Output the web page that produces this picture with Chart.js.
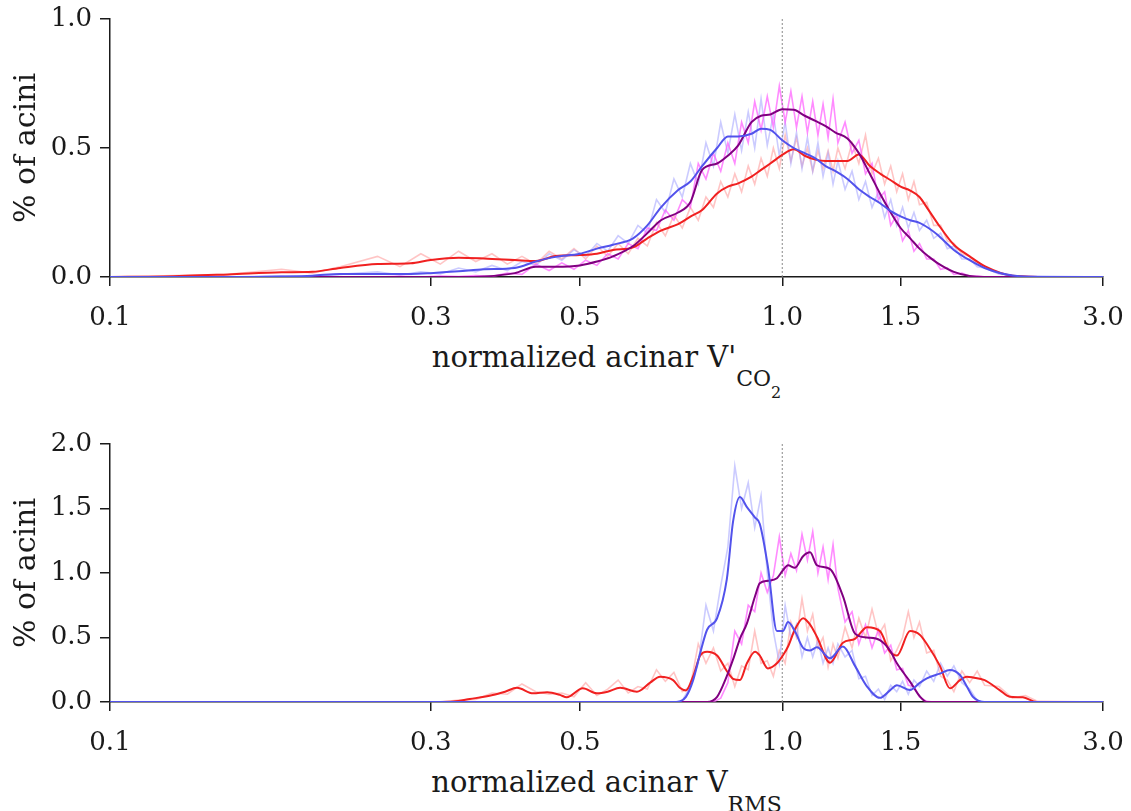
<!DOCTYPE html>
<html>
<head>
<meta charset="utf-8">
<script src="https://cdn.jsdelivr.net/npm/chart.js@4.4.0/dist/chart.umd.min.js"></script>
<style>
  body { margin: 0; background: #fff; width: 1131px; height: 811px; position: relative; overflow: hidden; }
  canvas { position: absolute; left: 0; }
  .xt { position: absolute; left: 110px; width: 993px; text-align: center; white-space: nowrap;
        font-family: 'DejaVu Serif', serif; font-size: 29px; line-height: 28px; color: #1a1a1a; }
  .s1 { font-size: 22px; position: relative; top: 19px; }
  .s2 { font-size: 16px; position: relative; top: 12px; }
  .rms { top: 20px; }
</style>
</head>
<body>
<canvas id="co2" width="1131" height="340" style="top:0px"></canvas>
<canvas id="rms" width="1131" height="340" style="top:425px"></canvas>
<div class="xt" style="top:343px">normalized acinar V'<span class="s1">CO<span class="s2">2</span></span></div>
<div class="xt" style="top:768px">normalized acinar V<span class="s1 rms">RMS</span></div>

<script>
// ---------- axes ----------
const xTicks = [0.1, 0.3, 0.5, 1.0, 1.5, 3.0];
const co2YTicks = [0, 0.5, 1.0];
const rmsYTicks = [0, 0.5, 1.0, 1.5, 2.0];

// ---------- top panel : V'CO2 ----------
// smoothed curves
const co2X = [0.1, 0.12, 0.15, 0.18, 0.2, 0.22, 0.25, 0.28, 0.3, 0.33, 0.36, 0.4, 0.43, 0.46, 0.5, 0.53, 0.56,
  0.6, 0.63, 0.66, 0.7, 0.73, 0.76, 0.8, 0.83, 0.86, 0.9, 0.93, 0.96, 1.0, 1.04, 1.08, 1.12, 1.16, 1.2, 1.25,
  1.3, 1.35, 1.4, 1.45, 1.5, 1.55, 1.6, 1.65, 1.7, 1.8, 1.9, 2.0, 2.2, 2.5, 3.0];
const co2Red = [0, 0.002, 0.01, 0.018, 0.02, 0.035, 0.05, 0.053, 0.066, 0.075, 0.072, 0.066, 0.062, 0.081, 0.085, 0.09, 0.105,
  0.115, 0.15, 0.18, 0.205, 0.234, 0.26, 0.324, 0.35, 0.363, 0.389, 0.415, 0.44, 0.473, 0.495, 0.47, 0.455, 0.45, 0.45, 0.45,
  0.475, 0.43, 0.4, 0.375, 0.35, 0.335, 0.31, 0.26, 0.21, 0.125, 0.08, 0.042, 0.005, 0, 0];
const co2Blue = [0, 0, 0, 0.002, 0.005, 0.012, 0.012, 0.012, 0.015, 0.022, 0.03, 0.035, 0.06, 0.078, 0.09, 0.11, 0.125,
  0.15, 0.2, 0.27, 0.337, 0.37, 0.43, 0.5, 0.545, 0.545, 0.555, 0.575, 0.57, 0.53, 0.5, 0.48, 0.46, 0.43, 0.41, 0.38,
  0.34, 0.31, 0.285, 0.255, 0.235, 0.22, 0.21, 0.19, 0.165, 0.105, 0.065, 0.035, 0.006, 0, 0];
const co2Purple = [0, 0, 0, 0, 0, 0, 0, 0, 0, 0, 0.002, 0.015, 0.04, 0.04, 0.045, 0.06, 0.08,
  0.12, 0.17, 0.22, 0.25, 0.29, 0.415, 0.44, 0.47, 0.51, 0.6, 0.625, 0.63, 0.65, 0.648, 0.625, 0.605, 0.585, 0.56, 0.537,
  0.48, 0.4, 0.32, 0.25, 0.19, 0.15, 0.11, 0.08, 0.055, 0.02, 0.004, 0, 0, 0, 0];

// raw (noisy) curves
const co2RawX = [0.1, 0.15, 0.18, 0.2, 0.22,
  0.25, 0.27, 0.29, 0.31, 0.33, 0.35, 0.37, 0.39, 0.41, 0.43, 0.45, 0.47, 0.49,
  0.51, 0.53, 0.55, 0.57, 0.59, 0.61, 0.63, 0.65, 0.67, 0.69, 0.71, 0.73, 0.75, 0.77, 0.79, 0.81, 0.83, 0.85, 0.87, 0.89, 0.91, 0.93, 0.95, 0.97, 0.99,
  1.01, 1.03, 1.05, 1.07, 1.09, 1.11, 1.13, 1.15, 1.17, 1.19, 1.21,
  1.24, 1.27, 1.30, 1.33, 1.36, 1.39, 1.42, 1.45, 1.48, 1.51, 1.54, 1.57, 1.60,
  1.64, 1.68, 1.72, 1.76, 1.80, 1.85, 1.90, 1.95, 2.0, 2.1, 2.2, 2.5, 3.0];
const co2RawRed = [0, 0.01, 0.03, 0.015, 0.04,
  0.08, 0.04, 0.09, 0.05, 0.1, 0.06, 0.09, 0.05, 0.08, 0.05, 0.1, 0.07, 0.11,
  0.07, 0.12, 0.08, 0.13, 0.09, 0.15, 0.12, 0.21, 0.16, 0.24, 0.19, 0.27, 0.22, 0.31, 0.27, 0.37, 0.31, 0.4, 0.33, 0.43, 0.36, 0.46, 0.39, 0.5, 0.42,
  0.55, 0.45, 0.54, 0.43, 0.5, 0.41, 0.49, 0.42, 0.49, 0.41, 0.5,
  0.42, 0.52, 0.44, 0.55, 0.4, 0.46, 0.36, 0.43, 0.33, 0.4, 0.3, 0.37, 0.28,
  0.29, 0.2, 0.2, 0.14, 0.13, 0.09, 0.08, 0.05, 0.04, 0.015, 0.005, 0, 0];
const co2RawBlue = [0, 0, 0.005, 0.003, 0.01,
  0.02, 0.008, 0.02, 0.012, 0.035, 0.02, 0.045, 0.025, 0.06, 0.045, 0.09, 0.065, 0.105,
  0.08, 0.13, 0.1, 0.16, 0.13, 0.2, 0.17, 0.3, 0.25, 0.38, 0.31, 0.44, 0.36, 0.52, 0.43, 0.6, 0.48, 0.63, 0.49, 0.64, 0.5, 0.69, 0.51, 0.63, 0.47,
  0.6, 0.44, 0.56, 0.42, 0.54, 0.41, 0.52, 0.39, 0.48, 0.36, 0.45,
  0.34, 0.41, 0.3, 0.37, 0.27, 0.33, 0.23, 0.3, 0.2, 0.27, 0.19, 0.25, 0.18,
  0.22, 0.15, 0.17, 0.11, 0.12, 0.07, 0.07, 0.04, 0.035, 0.012, 0.006, 0.003, 0];
const co2RawMagenta = [0, 0, 0, 0, 0,
  0, 0.003, 0, 0.004, 0.002, 0.006, 0.002, 0.015, 0.01, 0.05, 0.025, 0.055, 0.03,
  0.065, 0.045, 0.09, 0.07, 0.13, 0.11, 0.19, 0.18, 0.26, 0.22, 0.3, 0.27, 0.44, 0.38, 0.48, 0.41, 0.52, 0.44, 0.6, 0.52, 0.68, 0.57, 0.7, 0.58, 0.74,
  0.6, 0.72, 0.58, 0.7, 0.56, 0.68, 0.55, 0.67, 0.54, 0.69, 0.52,
  0.6, 0.48, 0.53, 0.4, 0.44, 0.3, 0.33, 0.2, 0.24, 0.14, 0.18, 0.1, 0.13,
  0.07, 0.07, 0.03, 0.035, 0.01, 0.015, 0.003, 0.004, 0, 0, 0, 0, 0];

// ---------- bottom panel : VRMS ----------
const rmsX = [0.1, 0.31, 0.324, 0.343, 0.371, 0.387, 0.403, 0.426, 0.447, 0.467,
  0.478, 0.505, 0.53, 0.55, 0.574, 0.608, 0.636, 0.658, 0.688, 0.704,
  0.719, 0.737, 0.755, 0.773, 0.8, 0.827, 0.845, 0.865, 0.886, 0.911,
  0.926, 0.952, 0.982, 1.002, 1.02, 1.044, 1.074, 1.1, 1.126, 1.178,
  1.231, 1.283, 1.337, 1.397, 1.446, 1.481, 1.549, 1.603, 1.641, 1.716,
  1.776, 1.838, 1.882, 1.921, 2.0, 2.108, 2.18, 2.28, 2.39, 3.0];
const rmsRed = [0, 0, 0.003, 0.023, 0.054, 0.08, 0.11, 0.067, 0.075, 0.055,
  0.036, 0.106, 0.067, 0.08, 0.11, 0.08, 0.15, 0.196, 0.17, 0.11,
  0.09, 0.2, 0.36, 0.39, 0.36, 0.24, 0.18, 0.17, 0.3, 0.39,
  0.36, 0.26, 0.3, 0.36, 0.43, 0.56, 0.65, 0.6, 0.506, 0.305,
  0.46, 0.49, 0.58, 0.55, 0.39, 0.36, 0.55, 0.52, 0.45, 0.28,
  0.106, 0.17, 0.196, 0.19, 0.17, 0.09, 0.041, 0.036, 0, 0];
const rmsBlue = [0, 0, 0, 0, 0, 0, 0, 0, 0, 0,
  0, 0, 0, 0, 0, 0, 0, 0, 0, 0.005,
  0.04, 0.17, 0.38, 0.56, 0.65, 0.95, 1.4, 1.59, 1.51, 1.43,
  1.38, 1.05, 0.55, 0.55, 0.62, 0.55, 0.42, 0.4, 0.424, 0.339,
  0.43, 0.28, 0.12, 0.032, 0.09, 0.13, 0.093, 0.15, 0.183, 0.22,
  0.248, 0.209, 0.12, 0.041, 0, 0, 0, 0, 0, 0];
const rmsPurple = [0, 0, 0, 0, 0, 0, 0, 0, 0, 0,
  0, 0, 0, 0, 0, 0, 0, 0, 0, 0,
  0, 0, 0, 0, 0.04, 0.2, 0.33, 0.49, 0.61, 0.82,
  0.92, 0.94, 0.96, 1.02, 1.06, 1.04, 1.13, 1.16, 1.06, 1.03,
  0.82, 0.53, 0.5, 0.48, 0.4, 0.3, 0.158, 0.041, 0, 0,
  0, 0, 0, 0, 0, 0, 0, 0, 0, 0];

const rmsRawX = [0.1,
  0.31, 0.33, 0.35, 0.37, 0.39, 0.41, 0.43, 0.45, 0.47, 0.49,
  0.51, 0.53, 0.55, 0.57, 0.59, 0.61, 0.63, 0.65, 0.67, 0.69, 0.71, 0.73, 0.75, 0.77, 0.79, 0.81, 0.83, 0.85, 0.87, 0.89, 0.91, 0.93, 0.95, 0.97, 0.99,
  1.01, 1.03, 1.05, 1.07, 1.09, 1.11, 1.13, 1.15, 1.17, 1.19, 1.21,
  1.24, 1.27, 1.30, 1.33, 1.36, 1.39, 1.42, 1.45, 1.48, 1.51, 1.54, 1.57, 1.60,
  1.64, 1.68, 1.72, 1.76, 1.80, 1.85, 1.90, 1.95, 2.0, 2.1, 2.2, 2.3, 2.4, 3.0];
const rmsRawRed = [0,
  0, 0.015, 0.02, 0.07, 0.06, 0.14, 0.08, 0.06, 0.07, 0.04,
  0.15, 0.05, 0.1, 0.17, 0.07, 0.12, 0.1, 0.25, 0.16, 0.23, 0.08, 0.12, 0.45, 0.3, 0.42, 0.24, 0.3, 0.12, 0.28, 0.25, 0.55, 0.3, 0.32, 0.2, 0.4,
  0.3, 0.62, 0.5, 0.8, 0.55, 0.68, 0.42, 0.5, 0.27, 0.45, 0.34,
  0.58, 0.42, 0.65, 0.5, 0.72, 0.52, 0.6, 0.32, 0.4, 0.5, 0.7, 0.5, 0.62,
  0.38, 0.4, 0.2, 0.17, 0.08, 0.24, 0.15, 0.24, 0.13, 0.12, 0.03, 0.05, 0.005, 0];
const rmsRawBlue = [0,
  0, 0, 0, 0, 0, 0, 0, 0, 0, 0,
  0, 0, 0, 0, 0, 0, 0, 0, 0, 0, 0.01, 0.12, 0.3, 0.75, 0.55, 0.9, 1.2, 1.83, 1.5, 1.7, 1.35, 1.6, 1.0, 0.55, 0.3,
  0.75, 0.5, 0.6, 0.35, 0.5, 0.35, 0.48, 0.3, 0.42, 0.3, 0.45,
  0.35, 0.4, 0.18, 0.2, 0.05, 0.1, 0.02, 0.13, 0.08, 0.16, 0.06, 0.17, 0.12,
  0.24, 0.16, 0.3, 0.2, 0.28, 0.15, 0.1, 0.01, 0, 0, 0, 0, 0, 0];
const rmsRawMagenta = [0,
  0, 0, 0, 0, 0, 0, 0, 0, 0, 0,
  0, 0, 0, 0, 0, 0, 0, 0, 0, 0, 0, 0, 0, 0, 0, 0.03, 0.15, 0.55, 0.45, 0.75, 0.7, 1.0, 0.85, 0.98, 1.28,
  0.98, 1.15, 1.02, 1.3, 1.1, 1.32, 1.0, 1.2, 0.95, 1.22, 0.88,
  0.62, 0.7, 0.45, 0.6, 0.42, 0.56, 0.38, 0.44, 0.25, 0.26, 0.13, 0.12, 0.04,
  0.005, 0, 0, 0, 0, 0, 0, 0, 0, 0, 0, 0, 0, 0];

// ---------- colours ----------
const RED = 'rgb(240, 32, 32)';
const BLUE = 'rgb(82, 82, 236)';
const PURPLE = 'rgb(128, 0, 128)';
const RED_RAW = 'rgba(255, 150, 150, 0.55)';
const BLUE_RAW = 'rgba(160, 160, 255, 0.55)';
const MAGENTA_RAW = 'rgba(255, 90, 255, 0.7)';
const INK = '#1a1a1a';
const FONT = "'DejaVu Serif', serif";

const pts = (xs, ys) => xs.map((x, i) => ({ x: x, y: ys[i] }));

function smooth(xs, ys, color, order) {
  return { data: pts(xs, ys), borderColor: color, borderWidth: 2, order: order,
           cubicInterpolationMode: 'monotone' };
}
function raw(xs, ys, color, order) {
  return { data: pts(xs, ys), borderColor: color, borderWidth: 1.6, order: order };
}

function buildChart(id, yTicks, sx, sRed, sBlue, sPurple, rx, rRed, rBlue, rMagenta) {
  const yMax = yTicks[yTicks.length - 1];
  return new Chart(document.getElementById(id), {
    type: 'line',
    data: {
      datasets: [
        smooth(sx, sBlue, BLUE, 1),
        smooth(sx, sPurple, PURPLE, 2),
        smooth(sx, sRed, RED, 3),
        // dotted reference line at x = 1
        { data: [{ x: 1, y: 0 }, { x: 1, y: yMax }], borderColor: '#8a8a8a', borderWidth: 1,
          borderDash: [2, 2], order: 4 },
        raw(rx, rMagenta, MAGENTA_RAW, 5),
        raw(rx, rBlue, BLUE_RAW, 6),
        raw(rx, rRed, RED_RAW, 7)
      ]
    },
    options: {
      responsive: false,
      animation: false,
      devicePixelRatio: 1,
      layout: { padding: { left: 0, right: 28, top: 19, bottom: 0 } },
      elements: { point: { radius: 0 } },
      plugins: { legend: { display: false }, tooltip: { enabled: false } },
      scales: {
        x: {
          type: 'logarithmic', min: 0.1, max: 3.0,
          afterBuildTicks: (ax) => { ax.ticks = xTicks.map(v => ({ value: v })); },
          afterFit: (s) => { s.height = 63; s.paddingLeft = 0; s.paddingRight = 0; },
          ticks: { callback: (v) => Number(v).toFixed(1), autoSkip: false, maxRotation: 0,
                   padding: 17, color: INK, font: { family: FONT, size: 26 } },
          grid: { drawOnChartArea: false, drawTicks: true, tickLength: 9, color: INK, lineWidth: 1.5 },
          border: { display: true, color: INK, width: 1.5 }
        },
        y: {
          min: 0, max: yMax,
          afterBuildTicks: (ax) => { ax.ticks = yTicks.map(v => ({ value: v })); },
          afterFit: (s) => { s.width = 110; s.paddingTop = 0; s.paddingBottom = 0; },
          ticks: { callback: (v) => Number(v).toFixed(1), padding: 8, color: INK,
                   font: { family: FONT, size: 26 } },
          grid: { drawOnChartArea: false, drawTicks: true, tickLength: 10, color: INK, lineWidth: 1.5 },
          border: { display: true, color: INK, width: 1.5 },
          title: { display: true, text: '% of acini', color: INK,
                   font: { family: FONT, size: 30 }, padding: { top: 9, bottom: 0 } }
        }
      }
    }
  });
}

buildChart('co2', co2YTicks, co2X, co2Red, co2Blue, co2Purple, co2RawX, co2RawRed, co2RawBlue, co2RawMagenta);
buildChart('rms', rmsYTicks, rmsX, rmsRed, rmsBlue, rmsPurple, rmsRawX, rmsRawRed, rmsRawBlue, rmsRawMagenta);
</script>
</body>
</html>
